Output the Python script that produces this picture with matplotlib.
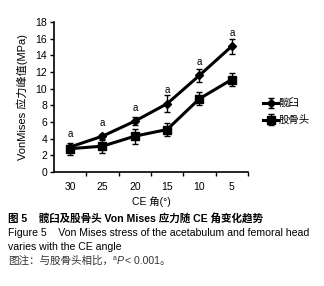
import matplotlib
matplotlib.use("Agg")
import matplotlib.pyplot as plt
import numpy as np
from matplotlib.transforms import offset_copy

plt.rcParams['font.family'] = ['Liberation Sans', 'Noto Sans CJK SC', 'DejaVu Sans']

categories = ["30", "25", "20", "15", "10", "5"]
acetabulum = [3.0, 4.3, 6.1, 8.2, 11.6, 15.1]
acetabulum_err = [0.3, 0.3, 0.5, 1.0, 0.8, 0.9]
femoral = [2.8, 3.1, 4.3, 5.1, 8.8, 11.1]
femoral_err = [0.7, 0.8, 0.9, 0.8, 0.8, 0.8]
sig_labels = ["a", "a", "a", "a", "a", "a"]
yticks = [0, 2, 4, 6, 8, 10, 12, 14, 16, 18]

fig = plt.figure(figsize=(3.24, 2.86), dpi=100)
ax = fig.add_axes([54/324, 1-172/286, (248-54)/324, (172-22)/286])
x = np.arange(len(categories))

ax.errorbar(x, acetabulum, yerr=acetabulum_err, color='black', lw=2.2,
            marker='D', ms=4, capsize=2.5, elinewidth=1, capthick=1, label='髋臼')
ax.errorbar(x, femoral, yerr=femoral_err, color='black', lw=2.2,
            marker='s', ms=6, capsize=2.5, elinewidth=1, capthick=1, label='股骨头')
for xi, yi, s in zip(x, acetabulum, sig_labels):
    ax.text(xi, yi + 1.6, s, ha='center', va='center', fontsize=7)

ax.set_xlim(-0.5, len(categories) - 0.5)
ax.set_ylim(0, 18)
ax.set_yticks(yticks)
ax.set_xticks(x)
ax.set_xticklabels(categories, fontsize=7.5)
ax.set_xticks(np.arange(len(categories)) + 0.5, minor=True)
ax.tick_params(axis='x', which='major', length=0, pad=7)
ax.tick_params(axis='x', which='minor', length=3, width=1, direction='out')
ax.tick_params(axis='y', labelsize=7.5, length=3, width=1, pad=2)
for s in ['top', 'right']:
    ax.spines[s].set_visible(False)
for s in ['left', 'bottom']:
    ax.spines[s].set_linewidth(1.2)
ax.set_ylabel('VonMises 应力峰值(MPa)', fontsize=8, labelpad=5)
ax.set_xlabel('CE 角(°)', fontsize=7.5, labelpad=3)

handles, labels = ax.get_legend_handles_labels()
leg = fig.legend(handles, labels, loc='center left', bbox_to_anchor=(258/324, 1-112/286),
                 frameon=False, fontsize=7.5, handlelength=1.4, handletextpad=0.1,
                 labelspacing=0.6, borderpad=0)

fs = 7.6
fig.text(8/324, 1-218/286, '图 5    髋臼及股骨头 Von Mises 应力随 CE 角变化趋势',
         fontsize=fs, fontweight='bold', va='center', ha='left')
fig.text(8/324, 1-233/286, 'Figure 5    Von Mises stress of the acetabulum and femoral head',
         fontsize=fs, va='center', ha='left')
fig.text(8/324, 1-247/286, 'varies with the CE angle', fontsize=fs, va='center', ha='left')

# footnote line built from pieces
renderer = fig.canvas.get_renderer()
t1 = fig.text(8/324, 1-261/286, '图注：与股骨头相比，', fontsize=fs, va='baseline',
              ha='left', color='#333333')
# baseline adjust
bb = t1.get_window_extent(renderer)
xpos = bb.x1
ybase = (1-264/286) * 286
t1.set_position((8/324, ybase/286))
t2 = fig.text(xpos/324, (ybase+4)/286, 'a', fontsize=5, va='baseline', ha='left', color='#333333')
bb2 = t2.get_window_extent(renderer)
t3 = fig.text(bb2.x1/324, ybase/286, 'P', fontsize=fs, style='italic', va='baseline',
              ha='left', color='#333333')
bb3 = t3.get_window_extent(renderer)
fig.text((bb3.x1+1)/324, ybase/286, '< 0.001。', fontsize=fs, va='baseline', ha='left',
         color='#333333')

fig.savefig('out.png', dpi=100)
